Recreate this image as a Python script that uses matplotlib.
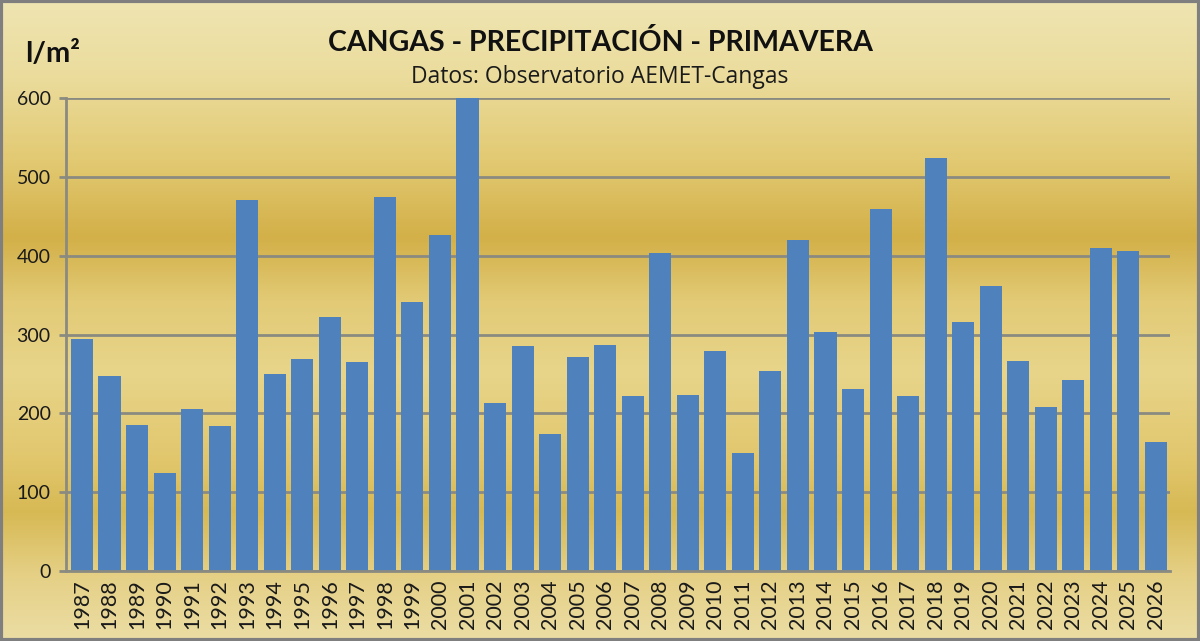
import numpy as np
import matplotlib
matplotlib.use("Agg")
import matplotlib.pyplot as plt
from matplotlib.colors import LinearSegmentedColormap

# Spring precipitation (l/m2), Cangas
years = list(range(1987, 2027))
precip = [294, 247, 185, 124, 205, 184, 471, 250, 269, 322,
          265, 474, 341, 426, 610, 213, 285, 174, 271, 287,
          222, 403, 223, 279, 150, 254, 420, 303, 231, 459,
          222, 524, 316, 361, 266, 208, 242, 410, 406, 164]
yticks = [0, 100, 200, 300, 400, 500, 600]

plt.rcParams['font.family'] = ['Lato', 'DejaVu Sans']

fig = plt.figure(figsize=(12, 6.41), dpi=100)

# gold gradient background
bg = fig.add_axes([0, 0, 1, 1], zorder=-10)
gold = LinearSegmentedColormap.from_list("gold", [
    (0.00, "#efe5b2"), (0.12, "#ebdc9c"), (0.25, "#e2c972"),
    (0.37, "#d3b048"), (0.47, "#e2ca76"), (0.58, "#e8d58a"),
    (0.72, "#e1c66c"), (0.80, "#d7b954"), (0.90, "#e5d086"),
    (1.00, "#ebdda4")])
grad = np.linspace(0, 1, 256).reshape(-1, 1)
bg.imshow(grad, aspect="auto", cmap=gold, extent=[0, 1, 0, 1], origin="upper")
bg.set_xlim(0, 1)
bg.set_ylim(0, 1)
bg.axis("off")
# grey frame
bg.add_patch(plt.Rectangle((0.001, 0.002), 0.998, 0.996, fill=False,
                           edgecolor="#7f7f7f", linewidth=3,
                           transform=bg.transAxes))

ax = fig.add_axes([0.055, 0.1092, 0.920, 0.7379])
ax.patch.set_alpha(0)
x = np.arange(len(years))
ax.bar(x, precip, width=0.8, color="#4f81bd", zorder=3)

ax.set_xlim(-0.58, len(years) - 0.49)
ax.set_ylim(0, 600)
ax.set_yticks(yticks)
ax.set_yticklabels([str(v) for v in yticks], fontsize=14, color="#1a1a1a")
ax.set_xticks(x)
ax.set_xticklabels([str(y) for y in years], rotation=90, fontsize=15.5,
                   color="#1a1a1a")
ax.tick_params(axis="x", length=0, pad=6)
ax.tick_params(axis="y", length=5, width=2, color="#8a8a80", pad=6)

ax.grid(axis="y", color="#8a8a80", linewidth=2, zorder=1)
for s in ["top", "right"]:
    ax.spines[s].set_visible(False)
for s in ["left", "bottom"]:
    ax.spines[s].set_color("#8a8a80")
    ax.spines[s].set_linewidth(2)
    ax.spines[s].set_zorder(4)

fig.text(0.5, 0.934, "CANGAS - PRECIPITACIÓN - PRIMAVERA", ha="center",
         va="center", fontsize=20.5, fontweight="bold", color="#111111")
fig.text(0.5, 0.88, "Datos: Observatorio AEMET-Cangas", ha="center",
         va="center", fontsize=16.5, color="#1a1a1a",
         family=["Open Sans", "DejaVu Sans"])
fig.text(0.021, 0.915, "l/m²", ha="left", va="center", fontsize=21,
         fontweight="bold", color="#111111")

fig.savefig("out.png", dpi=100)
